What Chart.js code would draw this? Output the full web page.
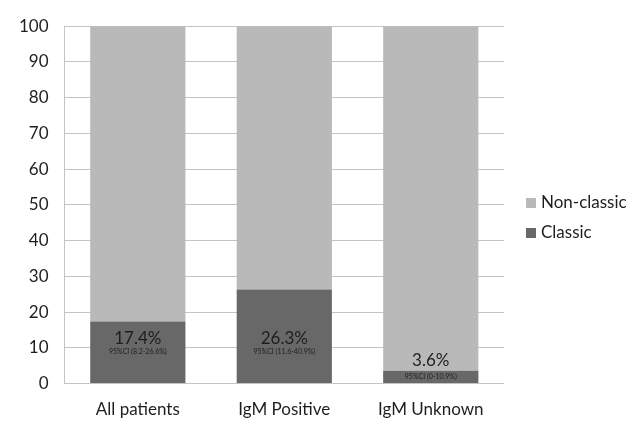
<!DOCTYPE html>
<html>
<head>
<meta charset="utf-8">
<script src="https://cdn.jsdelivr.net/npm/chart.js@4"></script>
<style>
  html, body { margin: 0; padding: 0; background: #fff; }
  #wrap { width: 640px; height: 428px; }
</style>
</head>
<body>
<div id="wrap"><canvas id="chart"></canvas></div>
<script>
const categories = ['All patients', 'IgM Positive', 'IgM Unknown'];
const classic = [17.4, 26.3, 3.6];
const nonClassic = [82.6, 73.7, 96.4];
const ciLabels = ['95%CI (8.2-26.6%)', '95%CI (11.6-40.9%)', '95%CI (0-10.9%)'];
const yTicks = [0, 10, 20, 30, 40, 50, 60, 70, 80, 90, 100];

const FONT = 'Lato, "Open Sans", sans-serif';

const barLabels = {
  id: 'barLabels',
  afterDatasetsDraw(chart) {
    const ctx = chart.ctx;
    const meta = chart.getDatasetMeta(0);
    ctx.save();
    ctx.fillStyle = '#1e1e1e';
    ctx.textAlign = 'center';
    ctx.textBaseline = 'middle';
    meta.data.forEach((bar, i) => {
      const top = bar.y, bottom = bar.base;
      let pctY, ciY;
      if (bottom - top > 40) {
        pctY = bottom - 45;
        ciY = bottom - 31;
      } else {
        pctY = top - 10;
        ciY = (top + bottom) / 2;
      }
      ctx.font = '17px ' + FONT;
      ctx.fillText(classic[i] + '%', bar.x, pctY);
      ctx.font = '7px ' + FONT;
      ctx.fillText(ciLabels[i], bar.x, ciY);
    });
    ctx.restore();
  }
};

const sideLegend = {
  id: 'sideLegend',
  afterDraw(chart) {
    const ctx = chart.ctx;
    const items = [chart.data.datasets[1], chart.data.datasets[0]];
    ctx.save();
    ctx.textAlign = 'left';
    ctx.textBaseline = 'middle';
    ctx.font = '17px ' + FONT;
    items.forEach((ds, i) => {
      const y = 203 + i * 30;
      ctx.fillStyle = ds.backgroundColor;
      ctx.fillRect(526, y - 5, 10, 10);
      ctx.fillStyle = '#1e1e1e';
      ctx.fillText(ds.label, 541, y);
    });
    ctx.restore();
  }
};

new Chart(document.getElementById('chart'), {
  type: 'bar',
  data: {
    labels: categories,
    datasets: [
      { label: 'Classic', data: classic, backgroundColor: '#686868' },
      { label: 'Non-classic', data: nonClassic, backgroundColor: '#b9b9b9' }
    ]
  },
  options: {
    responsive: true,
    maintainAspectRatio: false,
    animation: false,
    layout: { padding: { left: 3, right: 136, top: 16, bottom: 0 } },
    datasets: { bar: { categoryPercentage: 1, barPercentage: 0.65 } },
    plugins: { legend: { display: false }, tooltip: { enabled: false } },
    scales: {
      x: {
        stacked: true,
        grid: { display: false },
        border: { display: false },
        ticks: { color: '#1e1e1e', font: { family: FONT, size: 17 }, padding: 8 }
      },
      y: {
        stacked: true,
        min: 0,
        max: 100,
        afterBuildTicks(scale) { scale.ticks = yTicks.map(v => ({ value: v })); },
        grid: { color: '#c4c4c4', drawTicks: false },
        border: { color: '#c4c4c4' },
        ticks: { color: '#1e1e1e', font: { family: FONT, size: 17 }, padding: 16 }
      }
    }
  },
  plugins: [barLabels, sideLegend]
});
</script>
</body>
</html>
